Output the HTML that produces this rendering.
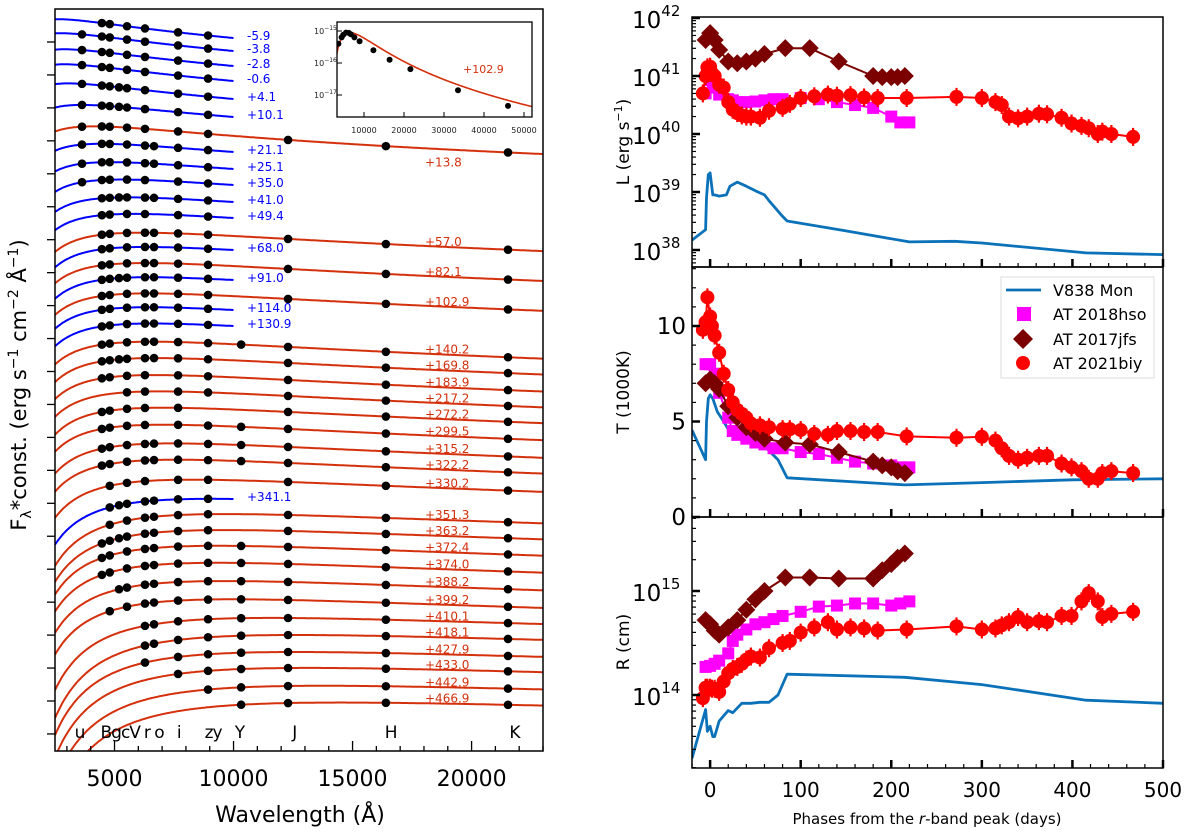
<!DOCTYPE html>
<html><head><meta charset="utf-8"><style>
html,body{margin:0;padding:0;background:#fff;}
svg{display:block;font-family:"DejaVu Sans","Liberation Sans",sans-serif;}
</style></head><body>
<svg id="fig" width="1200" height="837" viewBox="0 0 1200 837" xmlns="http://www.w3.org/2000/svg">
<defs>
<clipPath id="clipL"><rect x="55" y="9" width="488" height="742"/></clipPath>
<clipPath id="clipIn"><rect x="337" y="22" width="195" height="95"/></clipPath>
<clipPath id="clipR1"><rect x="692" y="17" width="471" height="250"/></clipPath>
<clipPath id="clipR2"><rect x="692" y="267" width="471" height="250"/></clipPath>
<clipPath id="clipR3"><rect x="692" y="517" width="471" height="251"/></clipPath>
</defs>
<g id="left"></g>
<g id="inset"></g>
<g id="right"></g>
</svg>
<script>
// ---------- LEFT PANEL DATA ----------
const rowLabels=['-5.9','-3.8','-2.8','-0.6','+4.1','+10.1','+13.8','+21.1','+25.1','+35.0','+41.0','+49.4','+57.0','+68.0','+82.1','+91.0','+102.9','+114.0','+130.9','+140.2','+169.8','+183.9','+217.2','+272.2','+299.5','+315.2','+322.2','+330.2','+341.1','+351.3','+363.2','+372.4','+374.0','+388.2','+399.2','+410.1','+418.1','+427.9','+433.0','+442.9','+466.9'];
const rowKind=['b','b','b','b','b','b','r','b','b','b','b','b','r','b','r','b','r','b','b','r','r','r','r','r','r','r','r','r','b','r','r','r','r','r','r','r','r','r','r','r','r'];
const rowTemp=[11000,10500,10000,10000,9500,8000,7000,6500,6000,5500,5200,5000,4700,4600,4600,4500,4500,4500,4400,4400,4300,4300,4200,4100,4100,3900,3800,3500,3200,3000,3000,3100,3100,3000,2900,2500,2300,2300,2200,2100,2000];
const rowRef=[38,51,66,81,99,117,140,152,169,185,202,218,239,250,269,280,299,310,326,347,363,380,396,412,429,447,463,482,499,515,531,547,564,582,600,618,635,652,668,686,703];
const rowFilters=['BgVriz','uBgVriz','uBgVriz','uBgVriz','uBgcVriz','uBgcVriz','uBgVrizJHK','uBgVroiz','uBgVroiz','uBgVriz','BgcVroiz','BgVriz','BgVroizJHK','BgVroiz','BgVroizJHK','BgcVroiz','BgVroizJHK','BgVroiz','BgVroiz','BgVroizYJHK','BgcVroizJHK','BgVrizJHK','VrizJHK','BgVriJHK','BgVrizYJHK','BgVroizYJHK','BgVroizYJHK','gVrizJHK','gcVroiz','gVroizJHK','BgcVroizJHK','BgVroizYJHK','BgVroizYJHK','cVroizYJHK','gVroizYJHK','roizYJHK','roizYJHK','rizYJHK','izYJHK','zYJHK','YJHK'];
const filterNames=['u','B','g','c','V','r','o','i','z','Y','J','H','K'];
const filterWave=[3634,4470,4800,5190,5525,6280,6660,7670,8930,10320,12290,16400,21530];
const bandLabels=['u','BgcV','r o','i','zy','Y','J','H','K'];
const bandLabelWave=[3530,5240,6650,7700,9140,10250,12550,16600,21800];
const xTicksL=[5000,10000,15000,20000];
// inset data
const insetWave=[3600,4400,4800,5500,6200,6700,7600,8900,12350,16400,21600,33500,46000];
const insetLogF=[-15.4,-15.2,-15.12,-15.05,-15.06,-15.1,-15.2,-15.32,-15.6,-15.9,-16.19,-16.85,-17.34];
const insetTicks=[10000,20000,30000,40000,50000];
const insetYTicks=[-15,-16,-17];
const insetT=4500, insetPeak=-15.05;

// ---------- RIGHT PANEL DATA ----------
const v838Day=[-20,-5,-4,-2,0,3,5,10,18,22,30,40,50,60,65,80,85,150,220,270,300,415,500];
const v838L=[38.17,38.35,38.9,39.3,39.33,38.95,38.95,38.93,38.95,39.1,39.17,39.1,39.02,38.95,38.85,38.58,38.5,38.33,38.14,38.15,38.12,37.95,37.92];
const v838TDay=[-20,-5,-4,-2,0,3,8,15,20,23,40,60,75,85,215,300,400,500];
const v838T=[4.55,3.0,5.0,6.2,6.4,6.2,5.5,5.0,4.6,4.3,4.0,3.7,3.0,2.05,1.68,1.8,1.95,2.0];
const v838RDay=[-20,-5,-3,0,3,5,10,20,25,35,45,55,65,75,85,215,300,415,500];
const v838R=[13.39,13.86,13.65,13.7,13.6,13.6,13.75,13.85,13.83,13.92,13.92,13.93,13.93,14.0,14.2,14.17,14.1,13.95,13.92];

const hsoDay=[-5,0,5,10,20,25,30,40,50,60,70,80,100,120,140,160,180,200,210,220];
const hsoL=[40.7,40.93,40.8,40.68,40.6,40.58,40.55,40.55,40.56,40.58,40.6,40.6,40.62,40.6,40.55,40.5,40.45,40.3,40.2,40.2];
const hsoT=[8.0,8.0,7.5,6.5,5.2,4.5,4.3,4.1,3.9,3.8,3.6,3.6,3.4,3.3,3.1,2.9,2.8,2.7,2.6,2.6];
const hsoR=[14.27,14.28,14.3,14.33,14.4,14.52,14.58,14.63,14.68,14.7,14.73,14.76,14.8,14.85,14.86,14.88,14.88,14.86,14.88,14.9];

const jfsDay=[-5,0,5,10,20,30,40,50,60,83,110,142,180,190,200,207,215];
const jfsL=[41.62,41.74,41.62,41.45,41.25,41.22,41.25,41.3,41.38,41.48,41.48,41.25,41.0,40.98,40.98,40.98,41.0];
const jfsT=[7.0,7.2,7.0,6.7,5.8,5.2,4.7,4.4,4.1,3.9,3.8,3.4,2.9,2.7,2.6,2.4,2.3];
const jfsR=[14.72,14.68,14.62,14.58,14.65,14.72,14.82,14.92,15.0,15.13,15.13,15.12,15.12,15.2,15.26,15.32,15.36];

const biyDay=[-8,-5,-3,0,2,5,10,15,20,25,30,35,40,45,55,65,80,88,100,115,130,140,155,170,185,217,272,300,315,322,330,340,350,363,372,388,399,410,418,428,433,443,467];
const biyL=[40.7,41.0,41.15,41.16,41.05,41.0,40.85,40.8,40.55,40.42,40.36,40.32,40.3,40.3,40.28,40.4,40.45,40.52,40.62,40.65,40.68,40.66,40.67,40.63,40.62,40.62,40.64,40.62,40.55,40.5,40.3,40.27,40.3,40.35,40.34,40.28,40.18,40.14,40.1,40.0,40.04,40.0,39.95];
const biyT=[9.8,10.2,11.5,10.5,10.0,9.5,8.6,7.5,6.65,6.0,5.6,5.4,5.2,4.9,4.8,4.7,4.6,4.6,4.55,4.35,4.3,4.5,4.5,4.45,4.45,4.22,4.15,4.2,4.0,3.6,3.2,3.0,3.1,3.2,3.2,2.8,2.6,2.4,2.0,2.0,2.3,2.4,2.3];
const biyR=[13.97,14.07,14.07,14.07,14.06,14.06,14.03,14.13,14.21,14.25,14.27,14.3,14.34,14.37,14.36,14.45,14.5,14.52,14.6,14.65,14.7,14.63,14.65,14.64,14.62,14.63,14.66,14.63,14.64,14.67,14.7,14.75,14.7,14.71,14.7,14.76,14.76,14.9,14.98,14.9,14.75,14.78,14.8];
const xTicksR=[0,100,200,300,400,500];

// ---------- HELPERS ----------
const NS='http://www.w3.org/2000/svg';
function mk(parent,tag,attrs,text){const e=document.createElementNS(NS,tag);for(const k in attrs)e.setAttribute(k,attrs[k]);if(text!==undefined)e.textContent=text;parent.appendChild(e);return e;}
const RED='#d4300c', BLUE='#0000ff';
function logB(l,T){return -5*Math.log10(l)-Math.log10(Math.exp(1.4388e8/(l*T))-1);}

// ---------- LEFT PANEL ----------
const L=document.getElementById('left');
const X=l=>55+(l-2500)*(488/20500);
const K=16;
const cg=mk(L,'g',{'clip-path':'url(#clipL)'});


for(let i=0;i<rowLabels.length;i++){
  const T=rowTemp[i], blue=rowKind[i]==='b';
  const lref=blue?10000:12350, lend=blue?10000:23000;
  const b0=logB(lref,T);
  const Yc=l=>rowRef[i]-K*(logB(l,T)-b0);
  let d='';
  for(let l=2500;l<=lend;l+=50){d+=(l===2500?'M':'L')+X(l).toFixed(1)+','+Yc(l).toFixed(1);}
  const p=mk(cg,'path',{d:d,fill:'none',stroke:blue?BLUE:RED,'stroke-width':2});
  
  
  const fs=rowFilters[i];
  for(const ch of fs){
    const k=filterNames.indexOf(ch);
    const c=mk(cg,'circle',{cx:X(filterWave[k]),cy:Yc(filterWave[k]),r:4.3,fill:'#000'});
    
    
  }
  let tx,ty;
  if(blue){tx=247;ty=rowRef[i]+2;}
  else{tx=425;ty=Yc(19000)-1;if(rowLabels[i]==='+13.8')ty=Yc(19000)+17;}
  const t=mk(L,'text',{x:tx,y:ty,'font-size':12,fill:blue?BLUE:RED},rowLabels[i]);
  
  
}
const fr=mk(L,'rect',{x:55,y:9,width:488,height:742,fill:'none',stroke:'#000','stroke-width':1.5});


for(let y=42;y<=740;y+=32.95){mk(L,'line',{x1:47,x2:55,y1:y,y2:y,stroke:'#000','stroke-width':1.3});}
for(let l=3000;l<=23000;l+=1000){const maj=l%5000===0;mk(L,'line',{x1:X(l),x2:X(l),y1:751,y2:maj?741:746,stroke:'#000','stroke-width':1.3});}
for(const v of xTicksL){const t=mk(L,'text',{x:X(v),y:786,'font-size':22,'text-anchor':'middle'},String(v));}
for(let i=0;i<bandLabels.length;i++){const t=mk(L,'text',{x:X(bandLabelWave[i]),y:738,'font-size':17,'text-anchor':'middle','letter-spacing':'-1'},bandLabels[i]);}
{const t=mk(L,'text',{x:300,y:822,'font-size':22,'text-anchor':'middle'},'Wavelength (Å)');}
{const t=mk(L,'text',{x:0,y:0,'font-size':21,'text-anchor':'middle',transform:'translate(26,385) rotate(-90)'});
 
 t.innerHTML='F<tspan font-size="14" dy="5">λ</tspan><tspan dy="-5">*const. (erg s</tspan><tspan font-size="14" dy="-8">−1</tspan><tspan dy="8"> cm</tspan><tspan font-size="14" dy="-8">−2</tspan><tspan dy="8"> Å</tspan><tspan font-size="14" dy="-8">−1</tspan><tspan dy="8">)</tspan>';}

// ---------- INSET ----------
const I=document.getElementById('inset');
const XI=l=>337+(l-3250)*0.004;
const YI=v=>31+(-15-v)*32;
mk(I,'rect',{x:337,y:22,width:195,height:95,fill:'#fff',stroke:'none'});
const ig=mk(I,'g',{'clip-path':'url(#clipIn)'});
{const lp=2.898e7/insetT;const b0=logB(lp,insetT);let d='';
 for(let l=3000;l<=53000;l+=100){d+=(l===3000?'M':'L')+XI(l).toFixed(1)+','+YI(insetPeak+logB(l,insetT)-b0).toFixed(1);}
 const p=mk(ig,'path',{d:d,fill:'none',stroke:RED,'stroke-width':1.6});}
for(let i=0;i<insetWave.length;i++){const c=mk(ig,'circle',{cx:XI(insetWave[i]),cy:YI(insetLogF[i]),r:3,fill:'#000'});}
{const r=mk(I,'rect',{x:337,y:22,width:195,height:95,fill:'none',stroke:'#000','stroke-width':1.3});}
for(const v of insetTicks){mk(I,'line',{x1:XI(v),x2:XI(v),y1:117,y2:112,stroke:'#000'});const t=mk(I,'text',{x:XI(v),y:133,'font-size':8,'text-anchor':'middle',fill:'#222'},String(v));}
for(const v of insetYTicks){mk(I,'line',{x1:337,x2:342,y1:YI(v),y2:YI(v),stroke:'#000'});const t=mk(I,'text',{x:314,y:YI(v)+3,'font-size':8,fill:'#222'});t.innerHTML='10<tspan font-size="6" dy="-4">'+'−'+(-v)+'</tspan>';}
{const t=mk(I,'text',{x:463,y:73,'font-size':11,fill:RED},'+102.9');}

// ---------- RIGHT PANELS ----------
const R=document.getElementById('right');
const XR=d=>692+(d+20)*(471/520);
const YL=v=>18+(42-v)*58;
const YT=v=>517-v*19.1;
const YR=v=>591-(v-15)*104;
const C_V='#0b72b9',C_H='#ff00ff',C_J='#7b0000',C_B='#ff0000';
function line(g,xs,ys,Y,col,w,name){let d='';for(let i=0;i<xs.length;i++)d+=(i?'L':'M')+XR(xs[i]).toFixed(1)+','+Y(ys[i]).toFixed(1);const p=mk(g,'path',{d:d,fill:'none',stroke:col,'stroke-width':w,'stroke-linejoin':'round'});}
function marks(g,xs,ys,Y,col,shape,name,err){
  for(let i=0;i<xs.length;i++){const x=XR(xs[i]),y=Y(ys[i]);let e;
    if(err){mk(g,'line',{x1:x,x2:x,y1:y-err,y2:y+err,stroke:col,'stroke-width':2.2});}
    if(shape==='c')e=mk(g,'circle',{cx:x,cy:y,r:7,fill:col});
    else if(shape==='s')e=mk(g,'rect',{x:x-6,y:y-6,width:12,height:12,fill:col});
    else e=mk(g,'path',{d:`M${x},${y-9}L${x+9},${y}L${x},${y+9}L${x-9},${y}Z`,fill:col});
    
    }
}
function panel(clip,Y,vL,tL,vH,vJ,vB,name){
  const g=mk(R,'g',{'clip-path':'url('+clip+')'});
  
  
  line(g,tL,vL,Y,C_V,2.8,'v838mon-line');
  line(g,hsoDay,vH,Y,C_H,2,'at2018hso-line');marks(g,hsoDay,vH,Y,C_H,'s','at2018hso-point',5);
  line(g,jfsDay,vJ,Y,C_J,2,'at2017jfs-line');marks(g,jfsDay,vJ,Y,C_J,'d','at2017jfs-point',6);
  line(g,biyDay,vB,Y,C_B,2,'at2021biy-line');marks(g,biyDay,vB,Y,C_B,'c','at2021biy-point',9);
}
panel('#clipR1',YL,v838L,v838Day,hsoL,jfsL,biyL,'luminosity-panel');
panel('#clipR2',YT,v838T,v838TDay,hsoT,jfsT,biyT,'temperature-panel');
panel('#clipR3',YR,v838R,v838RDay,hsoR,jfsR,biyR,'radius-panel');
[[17,250],[267,250],[517,251]].forEach(([y,h],k)=>{const r=mk(R,'rect',{x:692,y:y,width:471,height:h,fill:'none',stroke:'#000','stroke-width':1.5});
  for(let d=-20;d<=500;d+=20){const maj=d%100===0;mk(R,'line',{x1:XR(d),x2:XR(d),y1:y+h,y2:y+h-(maj?8:4),stroke:'#000','stroke-width':maj?2.5:1.2});}});
function logTicks(Y,lo,hi,top,bot){for(let e=lo;e<=hi;e++){for(let m=1;m<10;m++){const v=e+Math.log10(m);const y=Y(v);if(y<top||y>bot)continue;mk(R,'line',{x1:692,x2:692+(m===1?8:4),y1:y,y2:y,stroke:'#000','stroke-width':m===1?2.5:1.2});}}}
logTicks(YL,37,42,17,267);logTicks(YR,13,15,517,768);
for(let v=0;v<=13;v++){const y=YT(v);if(y<267)continue;mk(R,'line',{x1:692,x2:692+(v%5===0?8:4),y1:y,y2:y,stroke:'#000','stroke-width':v%5===0?2.5:1.2});}
function powLabel(y,e){const t=mk(R,'text',{x:632,y:y+10,'font-size':23});t.innerHTML='10<tspan font-size="15" dy="-12">'+e+'</tspan>';}
[42,41,40,39,38].forEach(e=>powLabel(YL(e),e));
[15,14].forEach(e=>powLabel(YR(e),e));
[0,5,10].forEach(v=>{const t=mk(R,'text',{x:686,y:YT(v)+8,'font-size':23,'text-anchor':'end'},String(v));});
for(const v of xTicksR){const t=mk(R,'text',{x:XR(v),y:797,'font-size':20,'text-anchor':'middle'},String(v));}
{const t=mk(R,'text',{x:927,y:824,'font-size':15,'text-anchor':'middle'});t.innerHTML='Phases from the <tspan font-style="italic">r</tspan>-band peak (days)';}
function ylab(txt,y,name){const t=mk(R,'text',{x:0,y:0,'font-size':17,'text-anchor':'middle',transform:`translate(629,${y}) rotate(-90)`});t.innerHTML=txt;}
ylab('L (erg s<tspan font-size="11" dy="-7">−1</tspan><tspan dy="7">)</tspan>',142,'y-axis-title-l');
ylab('T (1000K)',392,'y-axis-title-t');
ylab('R (cm)',642,'y-axis-title-r');
{const g=mk(R,'g',{});
 mk(g,'rect',{x:1001,y:277,width:153,height:101,fill:'#fff',stroke:'#ddd','stroke-width':1});
 const names=['V838 Mon','AT 2018hso','AT 2017jfs','AT 2021biy'];const ys=[290,314,339,363];
 mk(g,'line',{x1:1006,x2:1041,y1:290,y2:290,stroke:C_V,'stroke-width':2.8});
 mk(g,'rect',{x:1017,y:307,width:14,height:14,fill:C_H});
 mk(g,'path',{d:'M1023,329L1033,339L1023,349L1013,339Z',fill:C_J});
 mk(g,'circle',{cx:1023,cy:363,r:7,fill:C_B});
 names.forEach((n,i)=>{const t=mk(g,'text',{x:1053,y:ys[i]+6,'font-size':16},n);});}
</script>
</body></html>
